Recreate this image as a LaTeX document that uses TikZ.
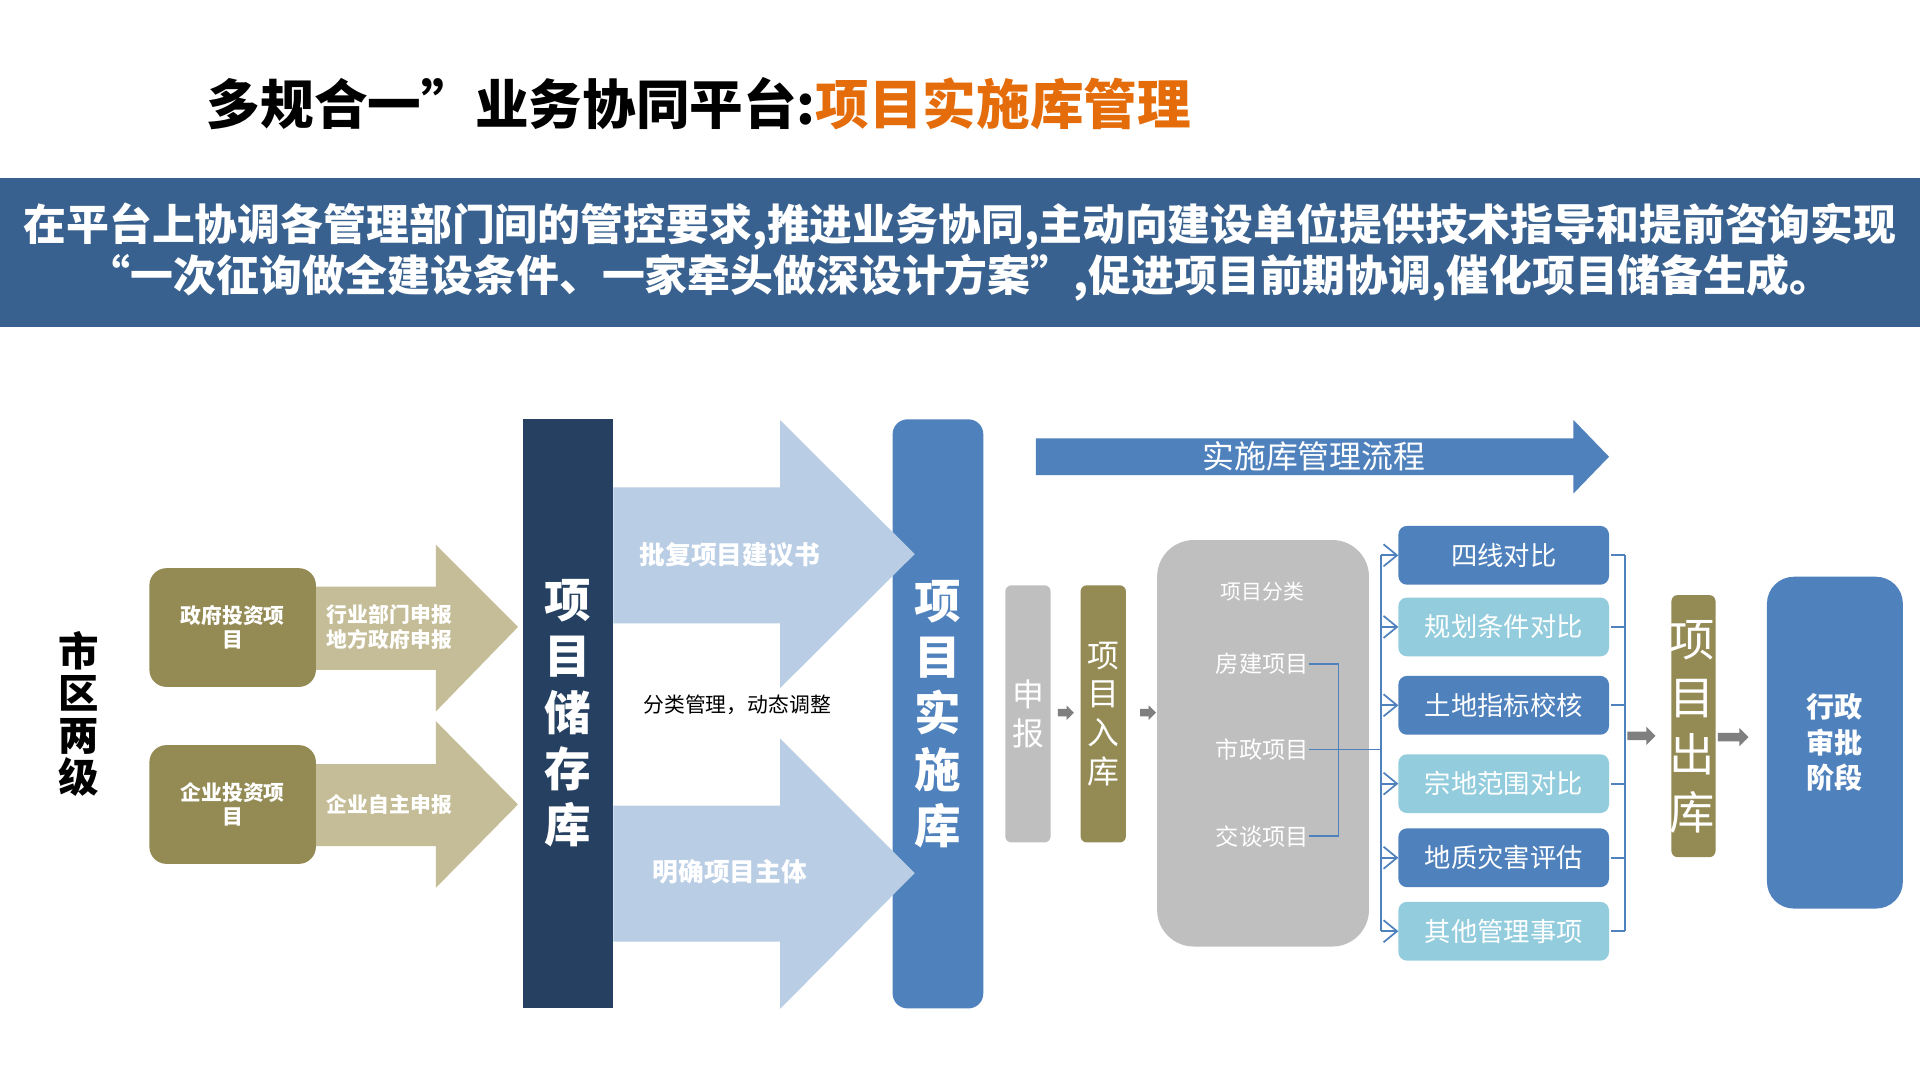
\documentclass[tikz,border=0pt]{standalone}
\usepackage{fontspec}
\setmainfont{Noto Sans CJK SC}
\usetikzlibrary{arrows.meta}
\definecolor{oliveD}{HTML}{948A54}
\definecolor{oliveL}{HTML}{C4BD97}
\definecolor{navyC}{HTML}{254061}
\definecolor{blueL}{HTML}{B9CDE5}
\definecolor{blueM}{HTML}{4F81BD}
\definecolor{cyanL}{HTML}{93CDDD}
\definecolor{grayB}{HTML}{BFBFBF}
\definecolor{grayA}{HTML}{7F7F7F}
\definecolor{bandC}{HTML}{38618F}
\definecolor{orangeT}{HTML}{E46C0A}
\newcommand\gbarrow[5]{% x1, x2, y, half body, half head
  \fill[grayA] (#1,{#3-#4}) -- ({#2-#5},{#3-#4}) -- ({#2-#5},{#3-#5}) -- (#2,#3)
    -- ({#2-#5},{#3+#5}) -- ({#2-#5},{#3+#4}) -- (#1,{#3+#4}) -- cycle;}
\begin{document}
\begin{tikzpicture}[x=1pt,y=-1pt,
  every node/.style={inner sep=0pt, outer sep=0pt, align=center},
  olivebox/.style={fill=oliveD, rounded corners=14pt, minimum width=136pt, minimum height=97pt,
     text=white, font=\fontsize{17}{20}\selectfont\bfseries},
  col/.style={minimum width=74pt, minimum height=481pt, text=white,
     font=\fontsize{38}{46}\selectfont\bfseries},
  chkbox/.style={rounded corners=7pt, minimum width=172pt, minimum height=48pt, text=white,
     font=\fontsize{21.5}{22}\selectfont},
  darkchk/.style={chkbox, fill=blueM},
  lightchk/.style={chkbox, fill=cyanL},
  link/.style={draw=blueM, line width=1.4pt},
  barb/.style={link, -{Straight Barb[length=11pt,width=18pt,line width=1.4pt]}},
  smallcol/.style={rounded corners=5pt, minimum width=37pt, minimum height=210pt, text=white}
]
\useasboundingbox (0,0) rectangle (1568,882);
\fill[white] (0,0) rectangle (1568,882);

% title
\node[anchor=west] (title) at (169,85) {\fontsize{43.8}{44}\selectfont\bfseries 多规合一”业务协同平台:\textcolor{orangeT}{项目实施库管理}};

% band
\fill[bandC] (0,145) rectangle (1568,267);
\node[text=white, font=\fontsize{35}{36}\selectfont\bfseries] (band1) at (784,185)
  {在平台上协调各管理部门间的管控要求,推进业务协同,主动向建设单位提供技术指导和提前咨询实现};
\node[text=white, font=\fontsize{35}{36}\selectfont\bfseries] (band2) at (784,227)
  {“一次征询做全建设条件、一家牵头做深设计方案”,促进项目前期协调,催化项目储备生成。};

% left label
\node[font=\fontsize{33}{34.5}\selectfont\bfseries] (lvl) at (64,583) {市\\区\\两\\级};

% olive arrows
\fill[oliveL] (250,479) -- (356,479) -- (356,445) -- (423,512) -- (356,581) -- (356,547) -- (250,547) -- cycle;
\fill[oliveL] (250,624) -- (356,624) -- (356,589) -- (423,657) -- (356,725) -- (356,691) -- (250,691) -- cycle;
\node[text=white, font=\fontsize{17}{21}\selectfont\bfseries] (rep1) at (318,512) {行业部门申报\\地方政府申报};
\node[text=white, font=\fontsize{17}{21}\selectfont\bfseries] (rep2) at (318,657) {企业自主申报};

% olive boxes
\node[olivebox] (gov) at (190,512.5) {政府投资项\\目};
\node[olivebox] (ent) at (190,657) {企业投资项\\目};

% columns
\node[col, fill=navyC] (store) at (464,582.5) {项\\目\\储\\存\\库};
\node[col, fill=blueM, rounded corners=12pt] (impl) at (766,583) {项\\目\\实\\施\\库};

% light blue arrows
\fill[blueL] (501,398) -- (637,398) -- (637,343) -- (747,452.5) -- (637,562) -- (637,509) -- (501,509) -- cycle;
\fill[blueL] (501,658) -- (637,658) -- (637,603) -- (747,713) -- (637,824) -- (637,769) -- (501,769) -- cycle;
\node[text=white, font=\fontsize{21}{21}\selectfont\bfseries] (approve) at (596,453) {批复项目建议书};
\node[text=white, font=\fontsize{21}{21}\selectfont\bfseries] (subject) at (596,712) {明确项目主体};
\node[text=black, font=\fontsize{17}{17}\selectfont] (classify) at (602,576) {分类管理，动态调整};

% flow arrow
\fill[blueM] (846,358) -- (1285,358) -- (1285,343) -- (1314,373) -- (1285,403) -- (1285,388) -- (846,388) -- cycle;
\node[text=white, font=\fontsize{26}{26}\selectfont] (flow) at (1073,373) {实施库管理流程};

% declare / enter
\node[smallcol, fill=grayB, font=\fontsize{26}{32}\selectfont] (decl) at (839.5,583) {申\\报};
\node[smallcol, fill=oliveD, font=\fontsize{26}{31.5}\selectfont] (enter) at (901,583) {项\\目\\入\\库};
\gbarrow{864}{877}{582}{3}{6}
\gbarrow{931}{944}{582}{3}{6}

% classification box
\node[fill=grayB, rounded corners=30pt, minimum width=173pt, minimum height=332pt] (cls) at (1031.5,607) {};
\node[text=white, font=\fontsize{17}{17}\selectfont] (clsT) at (1031,483) {项目分类};
\node[text=white, font=\fontsize{19}{19}\selectfont] (fj) at (1031,542) {房建项目};
\node[text=white, font=\fontsize{19}{19}\selectfont] (sz) at (1031,612) {市政项目};
\node[text=white, font=\fontsize{19}{19}\selectfont] (jt) at (1031,683) {交谈项目};

% check boxes
\node[darkchk]  (c1) at (1228,453.5) {四线对比};
\node[lightchk] (c2) at (1228,512) {规划条件对比};
\node[darkchk]  (c3) at (1228,576) {土地指标校核};
\node[lightchk] (c4) at (1228,640) {宗地范围对比};
\node[darkchk]  (c5) at (1228,700.5) {地质灾害评估};
\node[lightchk] (c6) at (1228,760.5) {其他管理事项};

% left bracket
\coordinate (bA) at (1093,542);
\coordinate (bB) at (1093,683);
\draw[link] (fj.east) -- (bA) -- (bB) -- (jt.east);
\draw[link] (sz.east) -- (1128,612);
\draw[link] (1128,453.5) -- (1128,760.5);
\foreach \c in {c1,c2,c3,c4,c5,c6}{
  \draw[barb] (\c.west -| 1128,0) -- (\c.west);
}
% right bracket
\draw[link] (1327,453.5) -- (1327,760.5);
\foreach \c in {c1,c2,c3,c4,c5,c6}{
  \draw[link] ([xshift=2pt]\c.east) -- (\c.east -| 1327,0);
}

% exit
\node[fill=oliveD, rounded corners=5pt, minimum width=36pt, minimum height=214pt] (exitbox) at (1383,593) {};
\node[text=white, font=\fontsize{37}{47}\selectfont] (exitT) at (1382,593.5) {项\\目\\出\\库};
\gbarrow{1329}{1352}{601}{3.5}{7.5}
\gbarrow{1403}{1428}{602}{3.5}{7.5}

% admin stage
\node[fill=blueM, rounded corners=22pt, minimum width=111pt, minimum height=271pt, text=white,
  font=\fontsize{23}{29}\selectfont\bfseries] (admin) at (1498.5,606.5) {行政\\审批\\阶段};
\end{tikzpicture}
\end{document}
